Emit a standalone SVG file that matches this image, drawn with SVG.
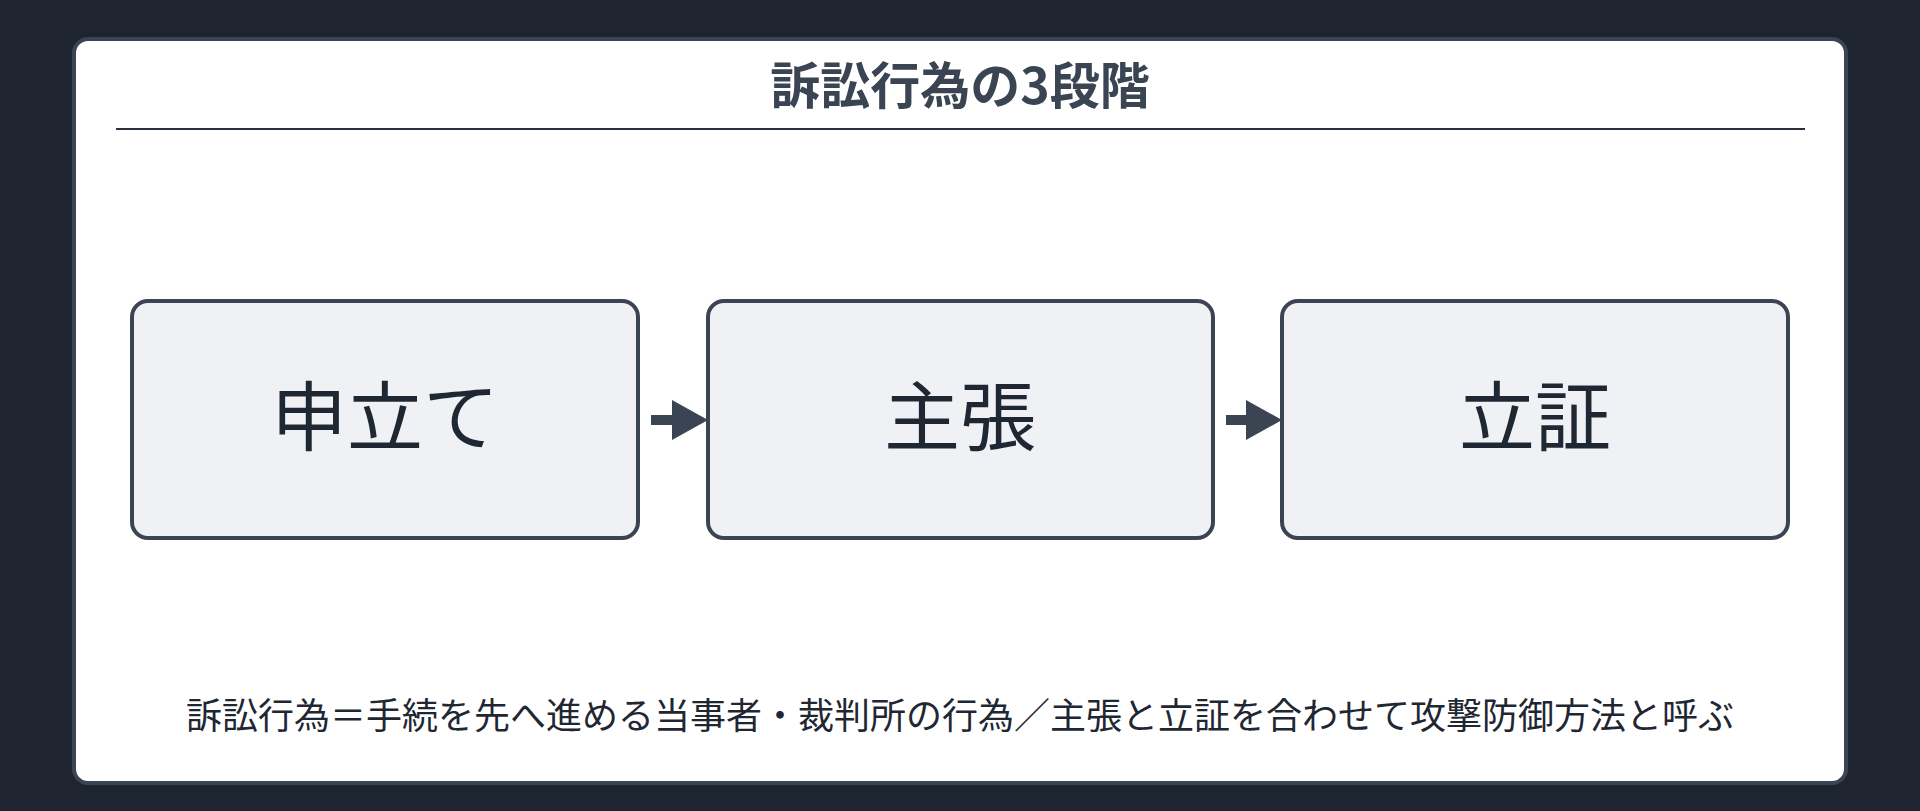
<svg xmlns="http://www.w3.org/2000/svg" width="1920" height="811" viewBox="0 0 1920 811">
<style>
text{font-family:"Noto Sans CJK JP","Noto Sans",sans-serif;fill:#1f2733;text-anchor:middle}
.box{fill:#eff1f5;stroke:#3b4452;stroke-width:4}
.lbl{font-size:76px}
</style>
<defs><marker id="ah" markerWidth="3.6" markerHeight="4" refX="0" refY="2" orient="auto"><path d="M0,0L3.6,2L0,4z" fill="#3b4452"/></marker></defs>
<rect width="1920" height="811" fill="#1e2530"/>
<rect x="74" y="39" width="1772" height="744" rx="14" fill="#fff" stroke="#3b4452" stroke-width="4"/>
<text x="960" y="104" font-size="50" font-weight="bold" style="fill:#3b4452">訴訟行為の3段階</text>
<line x1="116" y1="129" x2="1805" y2="129" stroke="#2a323e" stroke-width="2"/>
<g id="n1"><rect class="box" x="132" y="301" width="506" height="237" rx="16"/><text class="lbl" x="385" y="445">申立て</text></g>
<g id="n2"><rect class="box" x="708" y="301" width="505" height="237" rx="16"/><text class="lbl" x="960" y="445">主張</text></g>
<g id="n3"><rect class="box" x="1282" y="301" width="506" height="237" rx="16"/><text class="lbl" x="1535" y="445">立証</text></g>
<g id="edges" stroke="#3b4452" stroke-width="10">
<line x1="651" y1="420" x2="672" y2="420" marker-end="url(#ah)"/>
<line x1="1226" y1="420" x2="1246" y2="420" marker-end="url(#ah)"/>
</g>
<text x="960" y="729" font-size="36">訴訟行為＝手続を先へ進める当事者・裁判所の行為／主張と立証を合わせて攻撃防御方法と呼ぶ</text>
</svg>
